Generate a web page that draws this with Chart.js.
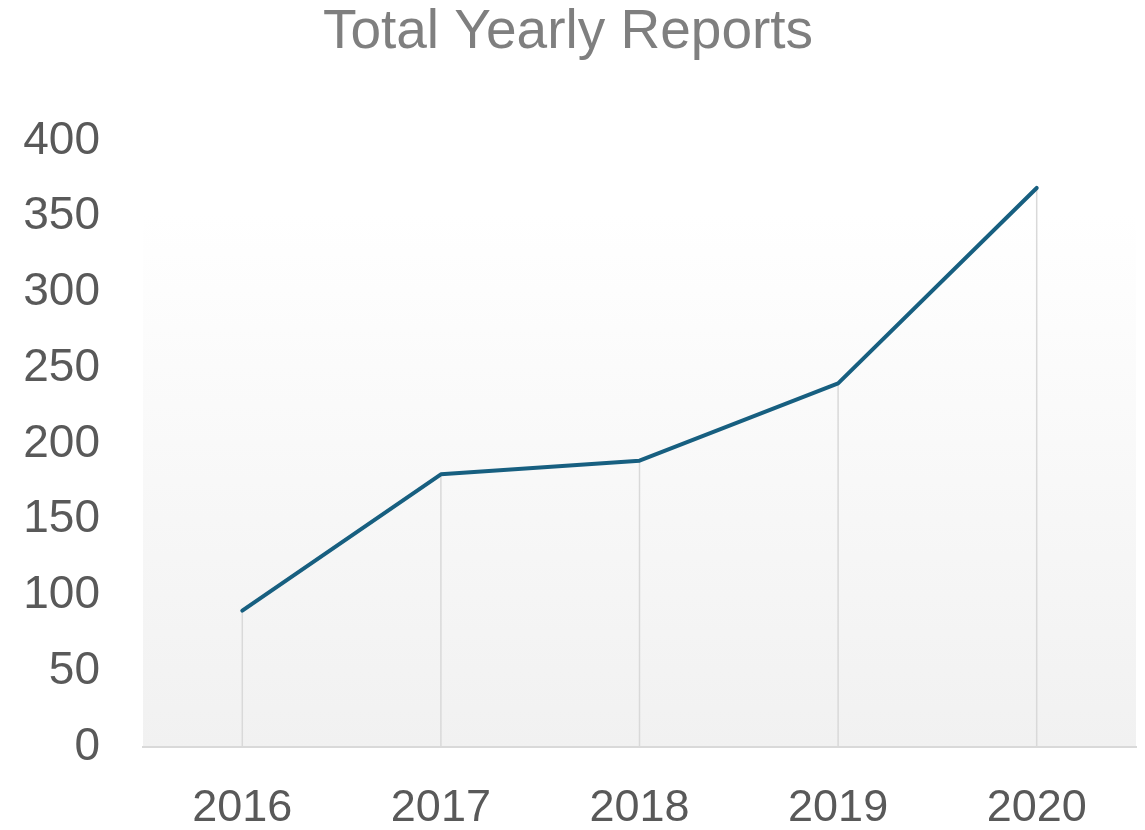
<!DOCTYPE html>
<html>
<head>
<meta charset="utf-8">
<script src="https://cdn.jsdelivr.net/npm/chart.js@4/dist/chart.umd.min.js"></script>
<style>
  html, body { margin: 0; padding: 0; background: #ffffff; }
  canvas { display: block; }
</style>
</head>
<body>
<canvas id="graficoReportes" width="1145" height="830"></canvas>
<script>
// datos del grafico
const years = ['2016', '2017', '2018', '2019', '2020'];
const totalReports = [90, 180, 189, 240, 369];
const yTicks = [0, 50, 100, 150, 200, 250, 300, 350, 400];

// fondo degradado del area de trazado
const fondoDegradado = {
    id: 'fondoDegradado',
    beforeDraw(chart) {
        const { ctx, chartArea: a } = chart;
        const g = ctx.createLinearGradient(0, a.top, 0, a.bottom);
        g.addColorStop(0, '#ffffff');
        g.addColorStop(0.12, '#ffffff');
        g.addColorStop(1, '#f1f1f1');
        ctx.save();
        ctx.fillStyle = g;
        ctx.fillRect(a.left, a.top, a.right - a.left, a.bottom - a.top);
        ctx.restore();
    }
};

// lineas verticales desde cada punto hasta el eje
const lineasCaida = {
    id: 'lineasCaida',
    beforeDatasetsDraw(chart) {
        const { ctx, scales } = chart;
        const meta = chart.getDatasetMeta(0);
        ctx.save();
        ctx.strokeStyle = '#d9d9d9';
        ctx.lineWidth = 1.5;
        meta.data.forEach(p => {
            ctx.beginPath();
            ctx.moveTo(p.x, p.y);
            ctx.lineTo(p.x, scales.y.getPixelForValue(0));
            ctx.stroke();
        });
        ctx.restore();
    }
};

const ctx = document.getElementById('graficoReportes').getContext('2d');
new Chart(ctx, {
    type: 'line',
    data: {
        labels: years,
        datasets: [{
            label: 'Total Yearly Reports',
            data: totalReports,
            borderColor: '#175f80',
            borderWidth: 4,
            borderCapStyle: 'round',
            borderJoinStyle: 'round',
            pointRadius: 0,
            fill: false,
            tension: 0
        }]
    },
    options: {
        responsive: false,
        animation: false,
        devicePixelRatio: 1,
        layout: { padding: { left: 0, right: 9, top: 0, bottom: 0 } },
        plugins: {
            legend: { display: false },
            tooltip: { enabled: false },
            title: {
                display: true,
                text: 'Total Yearly Reports',
                color: '#7f7f7f',
                font: { family: '"Liberation Sans", Arial, sans-serif', size: 55, weight: 'normal' },
                padding: { top: 0, bottom: 75 }
            }
        },
        scales: {
            x: {
                offset: true,
                grid: { display: false, drawTicks: false },
                border: { display: true, color: '#d9d9d9', width: 2 },
                ticks: {
                    color: '#595959',
                    font: { family: '"Liberation Sans", Arial, sans-serif', size: 45 },
                    padding: 35,
                    maxRotation: 0
                },
                afterFit(scale) { scale.height = 83; }
            },
            y: {
                min: 0,
                max: 400,
                afterBuildTicks(scale) { scale.ticks = yTicks.map(v => ({ value: v })); },
                grid: { display: false, drawTicks: false },
                border: { display: false },
                ticks: {
                    color: '#595959',
                    font: { family: '"Liberation Sans", Arial, sans-serif', size: 46 },
                    padding: 43
                },
                afterFit(scale) { scale.width = 143; }
            }
        }
    },
    plugins: [fondoDegradado, lineasCaida]
});
</script>
</body>
</html>
